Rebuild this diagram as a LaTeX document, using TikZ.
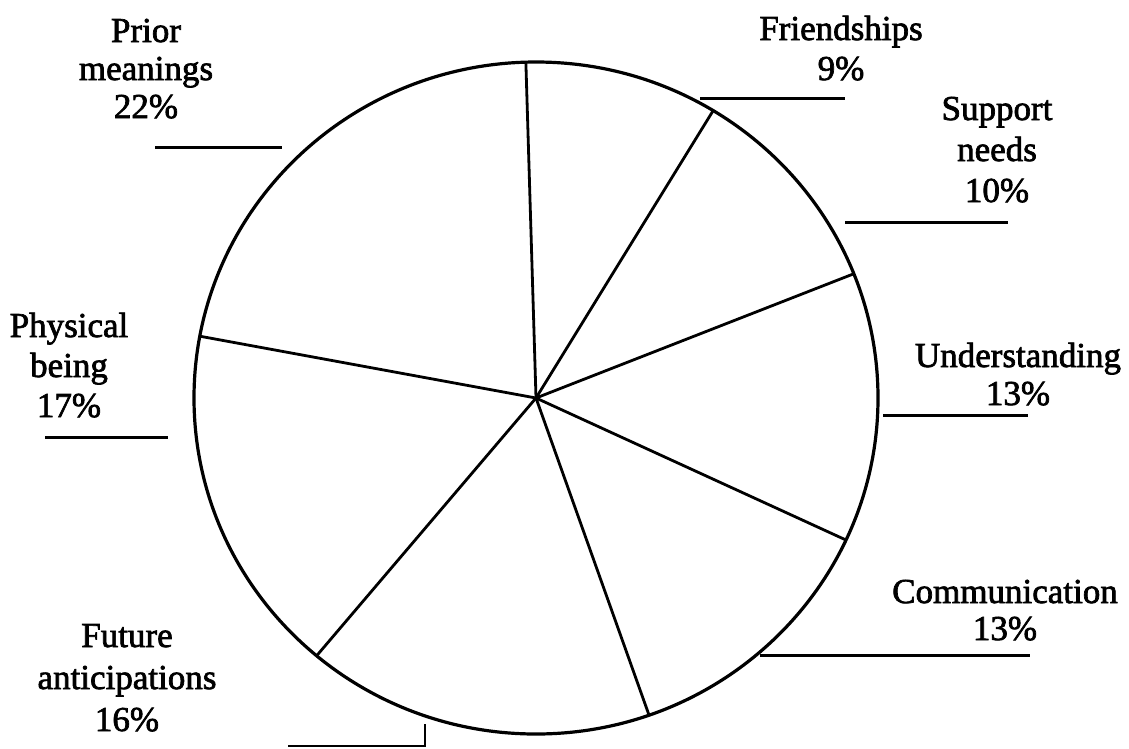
\documentclass[tikz,border=0pt]{standalone}
\usepackage{fontspec}
\setmainfont{Liberation Serif}
% slightly heavier type: fill and stroke the glyph outlines
\newcommand{\heavyon}{\special{pdf:literal 2 Tr 0.7 w}}
\newcommand{\heavyoff}{\special{pdf:literal 0 Tr}}
\newcommand{\pielabel}[2][38pt]{{\fontsize{35}{#1}\selectfont\heavyon\begin{tabular}[t]{@{}c@{}}#2\end{tabular}\heavyoff}}
\begin{document}
\begin{tikzpicture}[x=1pt,y=-1pt,
  rim/.style={line width=3.2pt},
  spoke/.style={line width=2.8pt},
  leader/.style={line width=3pt},
  lbl/.style={anchor=base,inner sep=0pt,outer sep=0pt}]
\useasboundingbox (0,0) rectangle (1129,748);

% pie outline and centre
\coordinate (O) at (536,398);
\draw[rim] (O) ellipse [x radius=342, y radius=336];

% slice boundaries on the rim
\path (O) ++(-91.7:342 and 336) coordinate (A);
\path (O) ++(-58.8:342 and 336) coordinate (B);
\path (O) ++(-21.7:342 and 336) coordinate (C);
\path (O) ++(25.0:342 and 336) coordinate (D);
\path (O) ++(70.7:342 and 336) coordinate (E);
\path (O) ++(129.9:342 and 336) coordinate (F);
\path (O) ++(190.6:342 and 336) coordinate (G);
\foreach \p in {A,B,C,D,E,F,G} \draw[spoke] (O) -- (\p);

% labels
\node[lbl] (prior) at (146,42) {\pielabel{Prior\\meanings\\22\%}};
\node[lbl] (friend) at (841,40) {\pielabel[40pt]{Friendships\\9\%}};
\node[lbl] (support) at (997,120) {\pielabel[41pt]{Support\\needs\\10\%}};
\node[lbl] (under) at (1018,367) {\pielabel{Understanding\\13\%}};
\node[lbl] (comm) at (1005,603) {\pielabel[37pt]{Communication\\13\%}};
\node[lbl] (phys) at (69,337) {\pielabel[40pt]{Physical\\being\\17\%}};
\node[lbl] (future) at (127,647) {\pielabel[42pt]{Future\\anticipations\\16\%}};

% underlines beneath the labels
\coordinate (p1) at (155,147);  \coordinate (p2) at (282,147);
\coordinate (f1) at (700,98);   \coordinate (f2) at (845,98);
\coordinate (s1) at (845,222);  \coordinate (s2) at (1008,222);
\coordinate (u1) at (883,415);  \coordinate (u2) at (1028,415);
\coordinate (c1) at (760,655);  \coordinate (c2) at (1030,655);
\coordinate (h1) at (45,437);   \coordinate (h2) at (168,437);
\coordinate (a1) at (288,746);  \coordinate (a2) at (425,746);
\coordinate (a3) at (425,724);
\draw[leader] (p1) -- (p2);
\draw[leader] (f1) -- (f2);
\draw[leader] (s1) -- (s2);
\draw[leader] (u1) -- (u2);
\draw[leader] (c1) -- (c2);
\draw[leader] (h1) -- (h2);
\draw[line width=1.8pt] (a1) -- (a2) -- (a3);
\end{tikzpicture}
\end{document}
